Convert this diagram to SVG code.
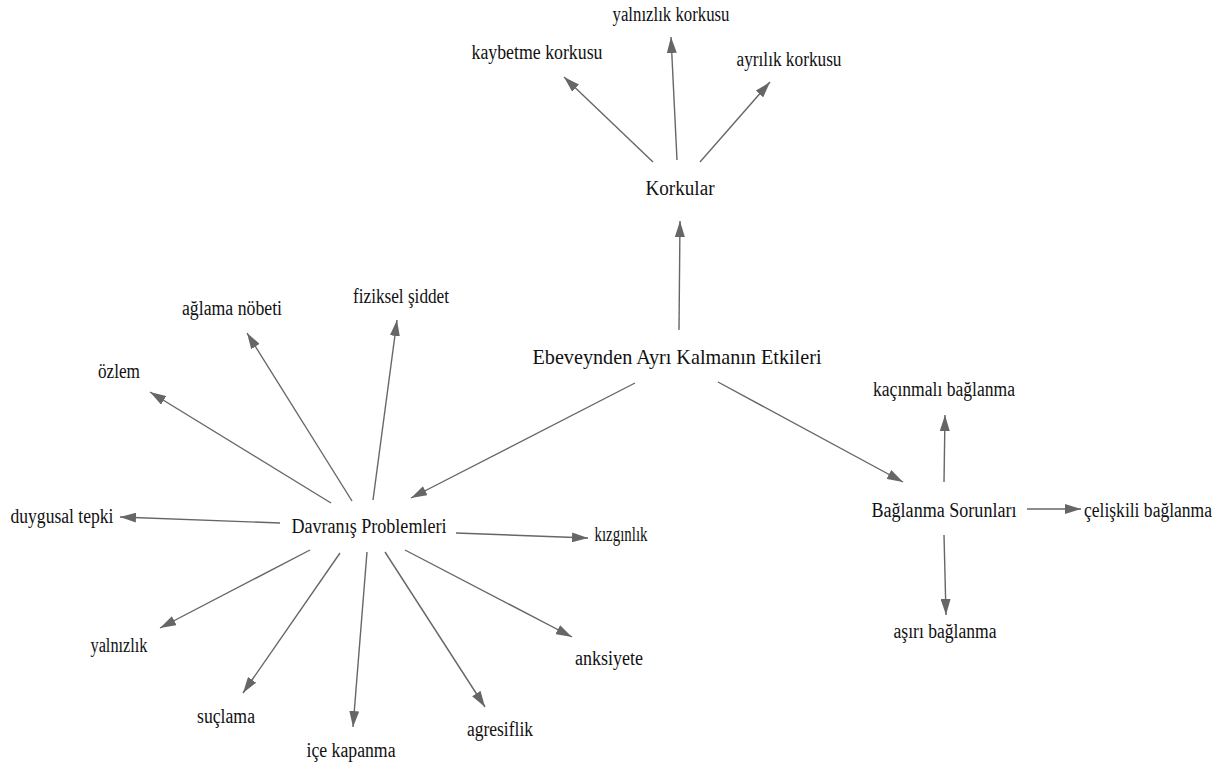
<svg xmlns="http://www.w3.org/2000/svg" width="1228" height="769" viewBox="0 0 1228 769">
<style>
text{font-family:"Liberation Serif","Times New Roman",serif;font-size:20px;fill:#111;text-anchor:middle}
.title{font-size:21px}
.edge{stroke:#666;stroke-width:1.4;fill:none;marker-end:url(#ah)}
</style>
<defs>
<marker id="ah" markerUnits="userSpaceOnUse" markerWidth="16" markerHeight="10" viewBox="0 0 16 10" refX="16" refY="5" orient="auto">
<path d="M0,0 L16,5 L0,10 z" fill="#666"/>
</marker>
</defs>
<rect width="1228" height="769" fill="#fff"/>
<g id="connectors">
<line class="edge" x1="679" y1="330" x2="680" y2="221"/>
<line class="edge" x1="635" y1="383" x2="411" y2="498"/>
<line class="edge" x1="718" y1="382" x2="903" y2="482"/>
<line class="edge" x1="653" y1="162" x2="564" y2="77"/>
<line class="edge" x1="677" y1="160" x2="671" y2="37"/>
<line class="edge" x1="700" y1="162" x2="770" y2="82"/>
<line class="edge" x1="373" y1="500" x2="397" y2="320"/>
<line class="edge" x1="352" y1="501" x2="247" y2="333"/>
<line class="edge" x1="331" y1="503" x2="150" y2="392"/>
<line class="edge" x1="280" y1="523" x2="120" y2="517"/>
<line class="edge" x1="456" y1="533" x2="588" y2="538"/>
<line class="edge" x1="310" y1="550" x2="160" y2="628"/>
<line class="edge" x1="340" y1="553" x2="243" y2="693"/>
<line class="edge" x1="367" y1="552" x2="353" y2="727"/>
<line class="edge" x1="385" y1="552" x2="485" y2="707"/>
<line class="edge" x1="405" y1="550" x2="572" y2="637"/>
<line class="edge" x1="944" y1="482" x2="945" y2="415"/>
<line class="edge" x1="1027" y1="509" x2="1081" y2="509"/>
<line class="edge" x1="944" y1="535" x2="946" y2="615"/>
</g>
<g id="n-root"><text class="title" x="677" y="364" textLength="289" lengthAdjust="spacingAndGlyphs">Ebeveynden Ayrı Kalmanın Etkileri</text></g>
<g id="n-korkular"><text x="680" y="195" textLength="69" lengthAdjust="spacingAndGlyphs">Korkular</text></g>
<g id="n-yalnizlik-korkusu"><text x="671" y="21" textLength="117" lengthAdjust="spacingAndGlyphs">yalnızlık korkusu</text></g>
<g id="n-kaybetme-korkusu"><text x="537" y="59" textLength="131" lengthAdjust="spacingAndGlyphs">kaybetme korkusu</text></g>
<g id="n-ayrilik-korkusu"><text x="789" y="66" textLength="105" lengthAdjust="spacingAndGlyphs">ayrılık korkusu</text></g>
<g id="n-davranis"><text x="369" y="533" textLength="155" lengthAdjust="spacingAndGlyphs">Davranış Problemleri</text></g>
<g id="n-fiziksel"><text x="401" y="303" textLength="96" lengthAdjust="spacingAndGlyphs">fiziksel şiddet</text></g>
<g id="n-aglama"><text x="232" y="315" textLength="100" lengthAdjust="spacingAndGlyphs">ağlama nöbeti</text></g>
<g id="n-ozlem"><text x="119" y="378" textLength="42" lengthAdjust="spacingAndGlyphs">özlem</text></g>
<g id="n-duygusal"><text x="62" y="523" textLength="103" lengthAdjust="spacingAndGlyphs">duygusal tepki</text></g>
<g id="n-kizginlik"><text x="621" y="541" textLength="53" lengthAdjust="spacingAndGlyphs">kızgınlık</text></g>
<g id="n-yalnizlik"><text x="119" y="652" textLength="57" lengthAdjust="spacingAndGlyphs">yalnızlık</text></g>
<g id="n-suclama"><text x="226" y="723" textLength="58" lengthAdjust="spacingAndGlyphs">suçlama</text></g>
<g id="n-ice"><text x="351" y="757" textLength="89" lengthAdjust="spacingAndGlyphs">içe kapanma</text></g>
<g id="n-agresiflik"><text x="500" y="736" textLength="66" lengthAdjust="spacingAndGlyphs">agresiflik</text></g>
<g id="n-anksiyete"><text x="609" y="665" textLength="68" lengthAdjust="spacingAndGlyphs">anksiyete</text></g>
<g id="n-baglanma"><text x="944" y="517" textLength="145" lengthAdjust="spacingAndGlyphs">Bağlanma Sorunları</text></g>
<g id="n-kacinmali"><text x="944" y="396" textLength="142" lengthAdjust="spacingAndGlyphs">kaçınmalı bağlanma</text></g>
<g id="n-celiskili"><text x="1148" y="517" textLength="128" lengthAdjust="spacingAndGlyphs">çelişkili bağlanma</text></g>
<g id="n-asiri"><text x="945" y="638" textLength="103" lengthAdjust="spacingAndGlyphs">aşırı bağlanma</text></g>
</svg>
